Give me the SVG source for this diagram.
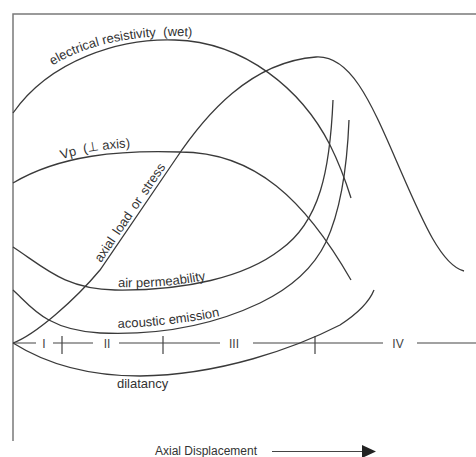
<svg xmlns="http://www.w3.org/2000/svg" xmlns:xlink="http://www.w3.org/1999/xlink" width="476" height="457" viewBox="0 0 476 457">
<style>
.frame{fill:none;stroke:#7a7a7a;stroke-width:1.5}
.curve{fill:none;stroke:#3a3a3a;stroke-width:1.3}
.ax{fill:none;stroke:#444;stroke-width:1.2}
.lbl{font-family:"Liberation Sans",Arial,sans-serif;font-size:13px;fill:#333;white-space:pre}
.num{font-family:"Liberation Sans",Arial,sans-serif;font-size:12px;fill:#444;text-anchor:middle}
</style>
<defs>
<path id="pER" d="M50,67 C85,45 130,36 175,36 C195,36 215,38 235,42"/>
<path id="pVp" d="M60,160 C80,153 105,148 140,147"/>
<path id="pAP" d="M116,287 C150,288 185,285 215,278"/>
<path id="pAE" d="M116,328 C150,327 190,323 230,314"/>
<marker id="ah" markerWidth="14" markerHeight="13" refX="13" refY="6.5" orient="auto" markerUnits="userSpaceOnUse">
<path d="M0,0 L14,6.5 L0,13 Z" fill="#222"/>
</marker>
</defs>
<rect width="476" height="457" fill="#fff"/>
<g id="frame">
<path class="frame" d="M476,14 H13 V441"/>
</g>
<g id="stage-axis">
<path class="ax" d="M13,343 H36 M53,343 H93 M119,343 H220 M253,343 H383 M417,343 H476 M62,336 V354 M163,336 V354 M315,336 V354"/>
<text class="num" x="44" y="347.5">I</text>
<text class="num" x="107" y="347.5">II</text>
<text class="num" x="234" y="347.5">III</text>
<text class="num" x="398" y="347.5">IV</text>
</g>
<g id="electrical-resistivity">
<path class="curve" d="M13,113 C50,60 120,38 175,40 C245,42 302,90 330,145 C340,165 346,182 351,198"/>
<text class="lbl" xml:space="preserve"><textPath xlink:href="#pER" startOffset="3">electrical resistivity  (wet)</textPath></text>
</g>
<g id="vp">
<path class="curve" d="M13,183 C60,155 120,150 180,152 C255,152 305,200 351,280"/>
<text class="lbl" xml:space="preserve"><textPath xlink:href="#pVp" startOffset="2">Vp  (⊥ axis)</textPath></text>
</g>
<g id="axial-load">
<path class="curve" d="M13,343 C35,335 75,300 100,270 L175,160 C205,115 250,62 316,57 C350,55 370,100 396,160 C420,215 440,265 464,271"/>
<text class="lbl" transform="translate(101,263) rotate(-56)" style="word-spacing:2.5px">axial load or stress</text>
</g>
<g id="air-permeability">
<path class="curve" d="M13,247 C45,268 65,289 115,290 C185,291 245,277 280,250 C320,222 330,170 333,100"/>
<text class="lbl"><textPath xlink:href="#pAP" startOffset="2">air permeability</textPath></text>
</g>
<g id="acoustic-emission">
<path class="curve" d="M13,290 C30,305 45,330 100,333 C170,336 220,322 260,303 C295,286 315,265 326,242 C340,212 347,170 349,120"/>
<text class="lbl"><textPath xlink:href="#pAE" startOffset="2">acoustic emission</textPath></text>
</g>
<g id="dilatancy">
<path class="curve" d="M13,343 C40,360 80,376 140,376 C220,375 295,348 340,325 C360,312 370,300 374,290"/>
<text class="lbl" x="117" y="388">dilatancy</text>
</g>
<g id="x-axis-label">
<text class="lbl" x="155" y="455" style="font-size:12px">Axial Displacement</text>
<path class="ax" d="M272,451.5 H375" marker-end="url(#ah)"/>
</g>
</svg>
